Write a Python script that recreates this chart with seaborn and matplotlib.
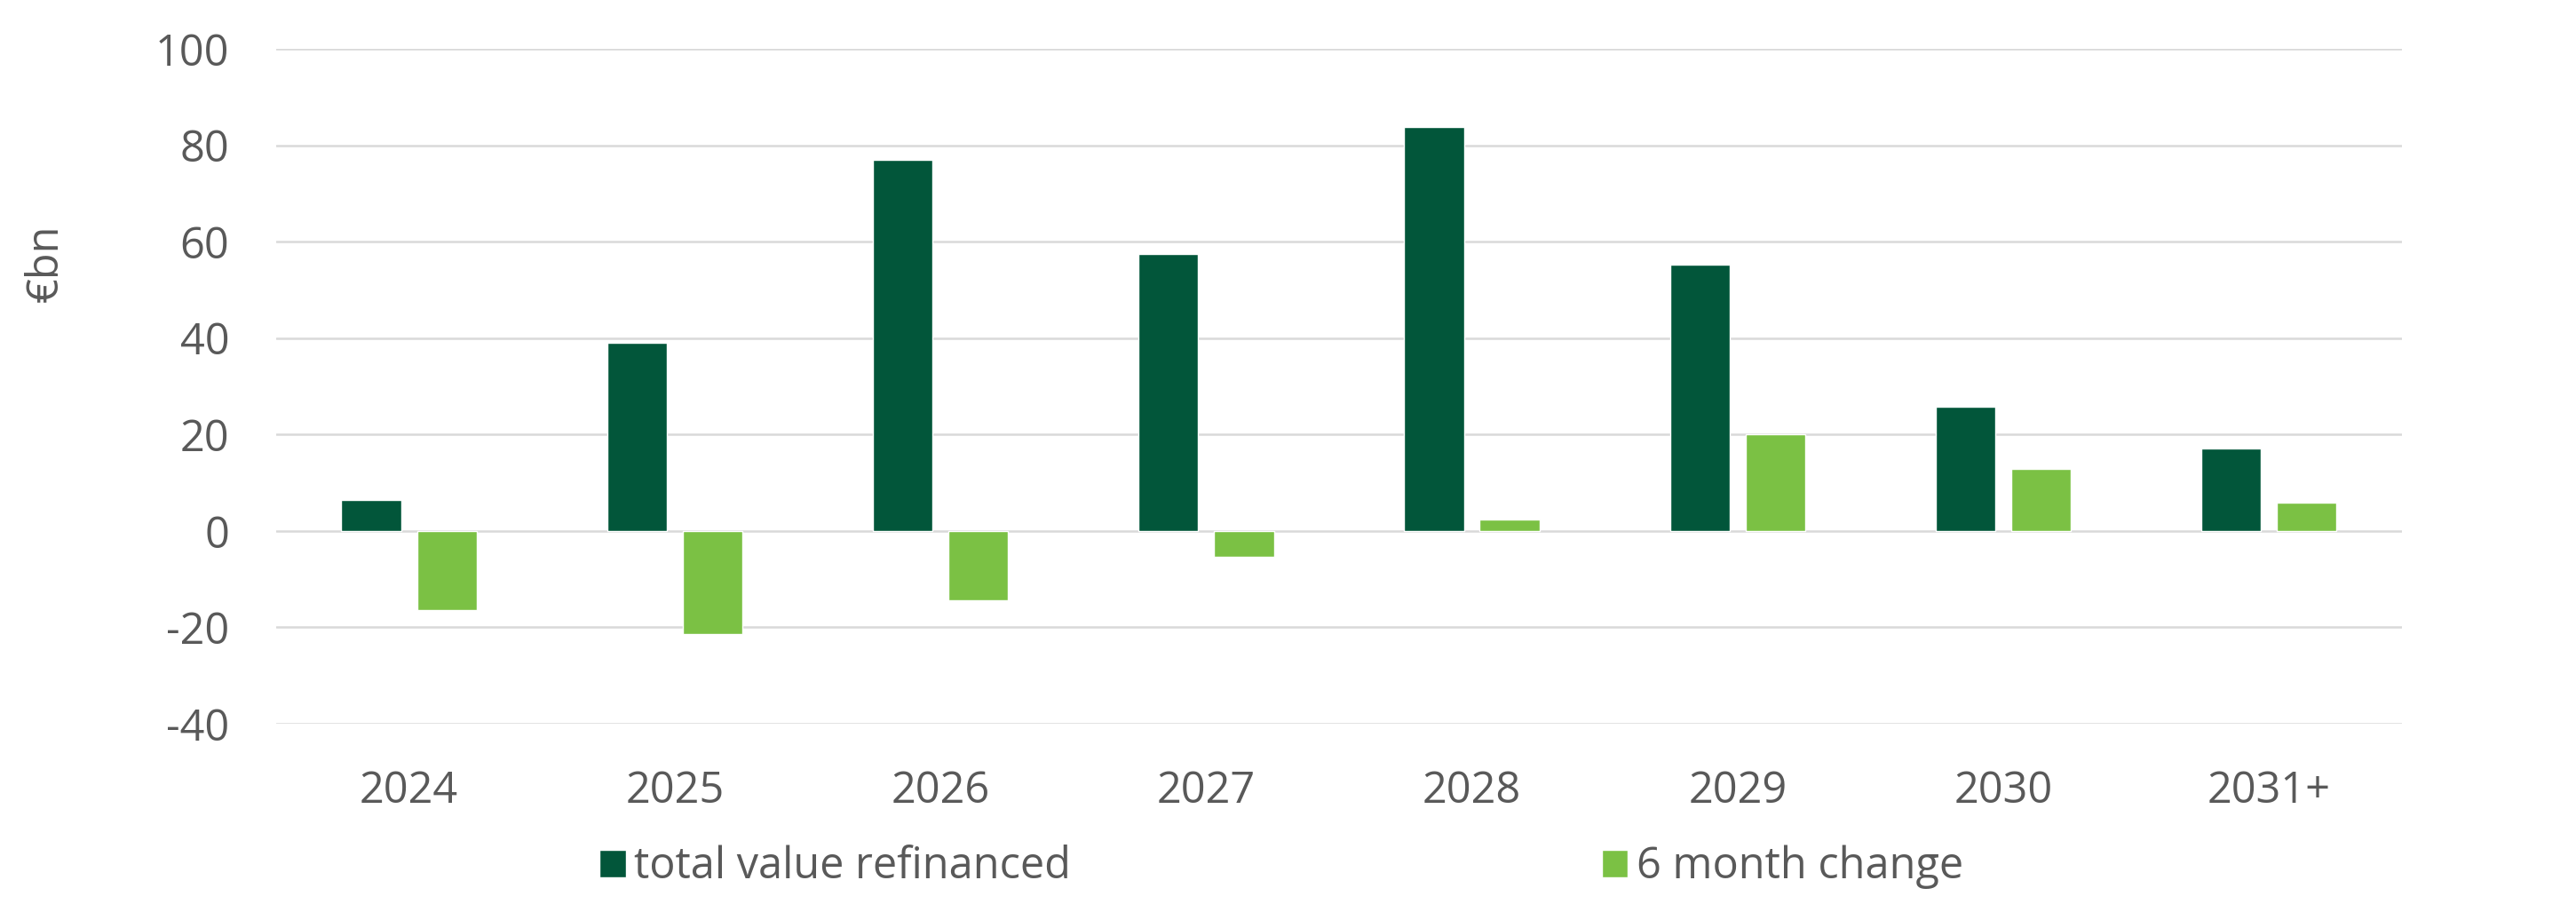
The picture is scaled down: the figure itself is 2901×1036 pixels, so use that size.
import pandas as pd
import matplotlib.pyplot as plt
import seaborn as sns

# data (€bn)
years = ['2024', '2025', '2026', '2027', '2028', '2029', '2030', '2031+']
total_refinanced = [6.5, 39.0, 76.9, 57.5, 83.8, 55.3, 25.7, 17.2]
six_month_change = [-16.4, -21.3, -14.4, -5.4, 2.4, 20.0, 12.9, 5.9]
series_names = ['total value refinanced', '6 month change']
colors = ['#02563A', '#7BC144']
y_ticks = [-40, -20, 0, 20, 40, 60, 80, 100]

df = pd.DataFrame({'year': years,
                   series_names[0]: total_refinanced,
                   series_names[1]: six_month_change})
df_long = df.melt(id_vars='year', var_name='series', value_name='value')

sns.set_style('white')
plt.rcParams['font.family'] = ['Open Sans', 'DejaVu Sans']
plt.rcParams['axes.unicode_minus'] = False
text_color = '#595959'

fig = plt.figure(figsize=(29.01, 10.36), dpi=100)
ax = fig.add_axes([0.1072, 0.2133, 0.8252, 0.7336])

sns.barplot(data=df_long, x='year', y='value', hue='series',
            hue_order=series_names, palette=colors, saturation=1,
            width=0.569, gap=0.21, ax=ax)

ax.set_ylim(-40, 100)
ax.set_yticks(y_ticks)
ax.yaxis.grid(True, color='#D9D9D9', linewidth=1.8)
ax.set_axisbelow(True)
for s in ax.spines.values():
    s.set_visible(False)

ax.tick_params(axis='y', length=0, pad=38, labelsize=35, labelcolor=text_color)
ax.tick_params(axis='x', length=0, pad=37, labelsize=35, labelcolor=text_color)
ax.set_xlabel('')
ax.set_ylabel('€bn', fontsize=35, color=text_color, va='center')
ax.yaxis.set_label_coords(-0.108, 0.683)

# legend centred under the plot
handles, labels = ax.get_legend_handles_labels()
ax.get_legend().remove()
fig.legend(handles, labels, loc='center', bbox_to_anchor=(0.4975, 0.0574),
           ncol=2, frameon=False, fontsize=35, labelcolor=text_color,
           handlelength=0.6, handleheight=0.6, handletextpad=0.2,
           columnspacing=12.3)

plt.savefig('out.png', dpi=100)
